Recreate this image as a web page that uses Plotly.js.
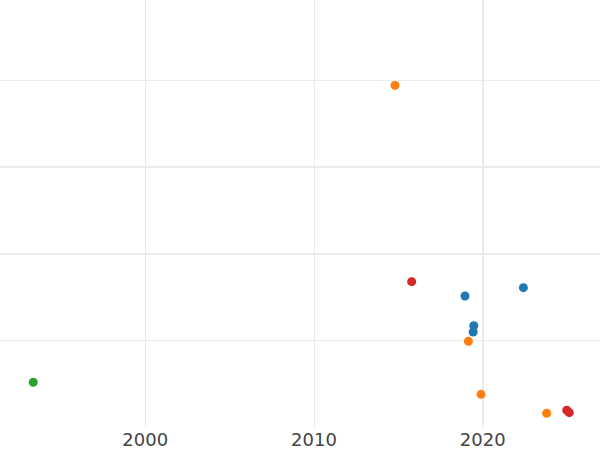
<!DOCTYPE html>
<html>
<head>
<meta charset="utf-8">
<script src="https://cdn.plot.ly/plotly-3.0.1.min.js"></script>
<style>html,body{margin:0;padding:0;background:#fff}#chart{width:600px;height:450px}</style>
</head>
<body>
<div id="chart"></div>
<script>
// Series values (x = year, y = value in grid units)
const blueYears = [2018.95, 2022.41, 2019.47, 2019.43];
const blueValues = [1.511, 1.607, 1.168, 1.096];
const orangeYears = [2014.80, 2019.15, 2019.90, 2023.79];
const orangeValues = [3.94, 0.988, 0.377, 0.158];
const greenYears = [1993.36];
const greenValues = [0.516];
const redYears = [2015.79, 2024.98, 2025.13];
const redValues = [1.676, 0.193, 0.165];

const xTickVals = [2000, 2010, 2020];
const xTickText = ['2000', '2010', '2020'];

const colors = ['#1f77b4', '#ff7f0e', '#2ca02c', '#d62728'];
function tr(x, y, c, name) {
  return {x: x, y: y, type: 'scatter', mode: 'markers', name: name,
    marker: {color: c, size: 9, line: {width: 0}}, showlegend: false, hoverinfo: 'x+y'};
}
const data = [
  tr(blueYears, blueValues, colors[0], 'blue'),
  tr(orangeYears, orangeValues, colors[1], 'orange'),
  tr(greenYears, greenValues, colors[2], 'green'),
  tr(redYears, redValues, colors[3], 'red'),
  {x: [], y: [], xaxis: 'x2', yaxis: 'y2', type: 'scatter', mode: 'markers', showlegend: false}
];
const grid = '#ebebeb';
const layout = {
  width: 600, height: 450,
  margin: {l: 0, r: 0, t: 0, b: 23, pad: 0},
  paper_bgcolor: '#ffffff', plot_bgcolor: '#ffffff',
  showlegend: false,
  font: {family: 'DejaVu Sans', color: '#444'},
  xaxis: {range: [1991.39, 2026.95], tickvals: xTickVals, ticktext: xTickText,
    showgrid: true, gridcolor: grid, gridwidth: 1, zeroline: false, showline: false,
    ticks: '', tickfont: {size: 18, color: '#444'}},
  yaxis: {range: [0, 4.925], dtick: 1, tick0: 0, showgrid: true, gridcolor: grid, gridwidth: 1,
    zeroline: false, showline: false, showticklabels: false, ticks: ''},
  xaxis2: {overlaying: 'x', range: [1991.39, 2026.95], tickvals: [2020], showgrid: true,
    gridcolor: grid, gridwidth: 2, showticklabels: false, zeroline: false, ticks: ''},
  yaxis2: {overlaying: 'y', range: [0, 4.925], tickvals: [2, 3], showgrid: true,
    gridcolor: grid, gridwidth: 2, showticklabels: false, zeroline: false, ticks: ''}
};
Plotly.newPlot('chart', data, layout, {displayModeBar: false, staticPlot: true});
</script>
</body>
</html>
